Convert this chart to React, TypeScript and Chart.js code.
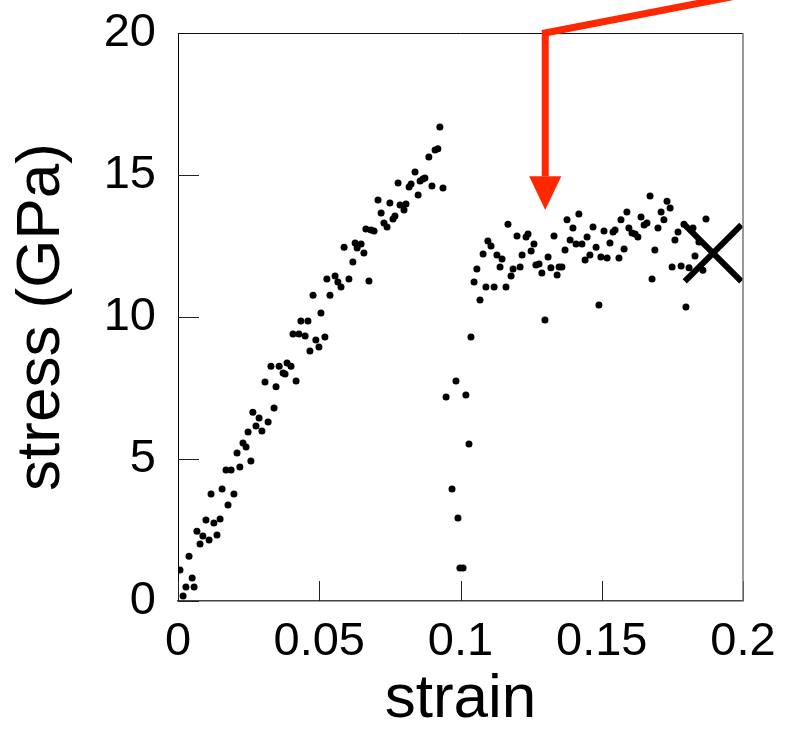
import React, { useEffect, useRef } from "react";
import { Chart, registerables } from "chart.js";

Chart.register(...registerables);

// strain / stress samples
const strain: number[] = [
  0.0018, 0.0028, 0.0057, 0.0050, 0.0007, 0.0039, 0.0078, 0.0067, 0.0088, 0.0110,
  0.0138, 0.0099, 0.0127, 0.0149, 0.0117, 0.0156, 0.0198, 0.0177, 0.0170, 0.0188,
  0.0219, 0.0209, 0.0258, 0.0230, 0.0241, 0.0248, 0.0265, 0.0276, 0.0287, 0.0297,
  0.0319, 0.0340, 0.0308, 0.0347, 0.0418, 0.0329, 0.0358, 0.0386, 0.0400, 0.0372,
  0.0379, 0.0407, 0.0428, 0.0450, 0.0467, 0.0499, 0.0488, 0.0520, 0.0435, 0.0460,
  0.0506, 0.0478, 0.0538, 0.0527, 0.0556, 0.0566, 0.0577, 0.0605, 0.0676, 0.0619,
  0.0588, 0.0627, 0.0648, 0.0634, 0.0658, 0.0665, 0.0683, 0.0694, 0.0729, 0.0740,
  0.0719, 0.0708, 0.0750, 0.0768, 0.0761, 0.0786, 0.0807, 0.0800, 0.0779, 0.0818,
  0.0825, 0.0850, 0.0839, 0.0857, 0.0867, 0.0874, 0.0899, 0.0938, 0.0888, 0.0910,
  0.0920, 0.0927,
  0.0984, 0.0949, 0.1019, 0.1030, 0.0970, 0.0991, 0.0998, 0.1009,
  0.1037, 0.1048, 0.1058, 0.1069, 0.1080, 0.1090, 0.1119, 0.1097, 0.1108, 0.1129,
  0.1147, 0.1140, 0.1161, 0.1179, 0.1186, 0.1211, 0.1168, 0.1200, 0.1232, 0.1239,
  0.1218, 0.1260, 0.1250, 0.1267, 0.1278, 0.1288, 0.1310, 0.1320, 0.1331, 0.1342,
  0.1349, 0.1359, 0.1299, 0.1377, 0.1419, 0.1398, 0.1388, 0.1370, 0.1409, 0.1430,
  0.1448, 0.1469, 0.1480, 0.1458, 0.1441, 0.1508, 0.1529, 0.1497, 0.1519, 0.1561,
  0.1490, 0.1547, 0.1540, 0.1568, 0.1589, 0.1579, 0.1596, 0.1607, 0.1618, 0.1628,
  0.1639, 0.1650, 0.1660, 0.1671, 0.1688, 0.1678, 0.1699, 0.1710, 0.1720, 0.1731,
  0.1742, 0.1749, 0.1759, 0.1770, 0.1791, 0.1823, 0.1781, 0.1809, 0.1798, 0.1869,
  0.1830, 0.1844, 0.1858,
];

const stress: number[] = [
  0.18, 0.49, 0.49, 0.81, 1.09, 1.58, 2.01, 2.46, 2.29, 2.15,
  2.32, 2.85, 2.75, 2.89, 3.77, 3.94, 3.77, 3.38, 4.61, 4.61,
  4.72, 5.21, 4.93, 5.56, 5.42, 5.95, 6.65, 6.16, 6.44, 5.99,
  6.30, 6.80, 7.71, 7.54, 7.75, 8.27, 8.27, 8.38, 8.27, 8.03,
  7.99, 9.40, 9.40, 9.33, 8.80, 8.94, 9.19, 9.30, 9.86, 9.86,
  10.14, 10.77, 10.77, 11.34, 11.44, 11.23, 11.06, 11.34, 11.27, 11.94,
  12.46, 12.61, 12.57, 12.43, 12.25, 13.10, 13.06, 13.03, 13.31, 13.17,
  13.66, 14.12, 14.01, 13.56, 13.45, 13.94, 13.98, 13.77, 14.72, 14.58,
  14.68, 14.30, 15.11, 14.79, 14.86, 14.89, 14.61, 14.54, 15.63, 15.88,
  15.92, 16.69,
  7.75, 7.18, 7.25, 5.53, 3.94, 2.92, 1.16, 1.16,
  9.30, 11.23, 11.69, 10.60, 12.22, 11.06, 11.06, 12.68, 12.50, 12.18,
  12.04, 11.76, 11.06, 11.44, 11.69, 11.76, 13.27, 12.85, 12.82, 12.92,
  12.18, 12.57, 12.32, 11.83, 11.87, 11.55, 12.11, 11.73, 12.85, 11.48,
  11.76, 11.76, 9.89, 13.42, 13.63, 13.13, 12.71, 12.36, 12.57, 12.57,
  12.82, 13.17, 12.46, 12.18, 12.01, 13.03, 12.61, 12.11, 12.08, 12.08,
  10.42, 13.06, 12.99, 13.42, 13.70, 12.39, 13.13, 12.96, 12.92, 12.82,
  13.52, 13.24, 13.31, 14.26, 12.36, 11.34, 13.13, 13.70, 13.42, 14.08,
  13.84, 11.76, 12.71, 12.99, 13.27, 13.13, 11.80, 11.73, 10.35, 13.45,
  12.15, 12.64, 11.65,
];

// fracture marker
const failureStrain: number[] = [0.1894];
const failureStress: number[] = [12.25];

// red arrow annotation (polyline, then head tip)
const arrowStrain: number[] = [0.2, 0.13, 0.13];
const arrowStress: number[] = [21.35, 20, 14.96];
const arrowTip: number[] = [0.13, 13.77];
const arrowHeadHalfWidth = 0.0057;

const xTickLabels: string[] = ["0", "0.05", "0.1", "0.15", "0.2"];
const yTickLabels: string[] = ["0", "5", "10", "15", "20"];

const FONT = "'Liberation Sans', Helvetica, Arial, sans-serif";

const framePlugin = {
  id: "frameAndTicks",
  afterDatasetsDraw(chart: any) {
    const { ctx, chartArea } = chart;
    const xs = chart.scales.x;
    const ys = chart.scales.y;
    ctx.save();
    // inside ticks
    ctx.strokeStyle = "#222";
    ctx.lineWidth = 1;
    ctx.beginPath();
    xs.ticks.forEach((t: any) => {
      const px = Math.round(xs.getPixelForValue(t.value)) + 0.5;
      ctx.moveTo(px, chartArea.bottom);
      ctx.lineTo(px, chartArea.bottom - 20);
    });
    ys.ticks.forEach((t: any) => {
      const py = Math.round(ys.getPixelForValue(t.value)) + 0.5;
      ctx.moveTo(chartArea.left, py);
      ctx.lineTo(chartArea.left + 21, py);
    });
    ctx.stroke();
    // top and right frame
    ctx.beginPath();
    ctx.strokeStyle = "#111";
    ctx.moveTo(chartArea.left, chartArea.top + 0.5);
    ctx.lineTo(chartArea.right, chartArea.top + 0.5);
    ctx.stroke();
    ctx.beginPath();
    ctx.strokeStyle = "#777";
    ctx.lineWidth = 1.5;
    ctx.moveTo(chartArea.right, chartArea.top);
    ctx.lineTo(chartArea.right, chartArea.bottom);
    ctx.stroke();

    // red arrow
    ctx.strokeStyle = "rgb(255,40,0)";
    ctx.fillStyle = "rgb(255,40,0)";
    ctx.lineWidth = 7;
    ctx.lineJoin = "miter";
    ctx.beginPath();
    arrowStrain.forEach((v, i) => {
      const px = xs.getPixelForValue(v);
      const py = ys.getPixelForValue(arrowStress[i]);
      if (i === 0) ctx.moveTo(px, py);
      else ctx.lineTo(px, py);
    });
    ctx.stroke();
    const last = arrowStrain.length - 1;
    const baseY = ys.getPixelForValue(arrowStress[last]);
    const lx = xs.getPixelForValue(arrowStrain[last] - arrowHeadHalfWidth);
    const rx = xs.getPixelForValue(arrowStrain[last] + arrowHeadHalfWidth);
    ctx.beginPath();
    ctx.moveTo(lx, baseY);
    ctx.lineTo(rx, baseY);
    ctx.lineTo(xs.getPixelForValue(arrowTip[0]), ys.getPixelForValue(arrowTip[1]));
    ctx.closePath();
    ctx.fill();
    ctx.restore();
  },
};

export default function App() {
  const ref = useRef<HTMLCanvasElement | null>(null);

  useEffect(() => {
    document.body.style.margin = "0";
    const canvas = ref.current;
    if (!canvas) return;
    const points = strain.map((x, i) => ({ x, y: stress[i] }));
    const failure = failureStrain.map((x, i) => ({ x, y: failureStress[i] }));
    const chart = new Chart(canvas, {
      type: "scatter",
      data: {
        datasets: [
          {
            data: failure,
            pointStyle: "crossRot",
            pointRadius: 40,
            pointHoverRadius: 40,
            borderColor: "#000",
            backgroundColor: "#000",
            borderWidth: 6,
            clip: 0,
          } as any,
          {
            data: points,
            pointStyle: "circle",
            pointRadius: 3.5,
            pointHoverRadius: 3.5,
            backgroundColor: "#000",
            borderColor: "#000",
            borderWidth: 0,
          },
        ],
      },
      options: {
        animation: false,
        responsive: false,
        events: [],
        layout: { autoPadding: false, padding: { left: 0, right: 45, top: 33, bottom: 0 } },
        plugins: { legend: { display: false }, tooltip: { enabled: false } },
        scales: {
          x: {
            type: "linear",
            min: 0,
            max: 0.2,
            afterFit: (s: any) => {
              s.height = 136;
              s.paddingLeft = 0;
              s.paddingRight = 0;
            },
            afterBuildTicks: (s: any) => {
              s.ticks = xTickLabels.map((_, i) => ({ value: (0.2 * i) / (xTickLabels.length - 1) }));
            },
            ticks: {
              color: "#000",
              font: { family: FONT, size: 47 },
              padding: 13,
              maxRotation: 0,
              autoSkip: false,
              callback: (_v: any, i: number) => xTickLabels[i],
            },
            grid: { display: false, drawTicks: false },
            border: { display: true, color: "#444", width: 1.5 },
            title: {
              display: true,
              text: "strain",
              color: "#000",
              font: { family: FONT, size: 62 },
              padding: { top: 0, bottom: 0 },
            },
          },
          y: {
            type: "linear",
            min: 0,
            max: 20,
            afterFit: (s: any) => {
              s.width = 178;
              s.paddingTop = 0;
              s.paddingBottom = 0;
            },
            afterBuildTicks: (s: any) => {
              s.ticks = yTickLabels.map((_, i) => ({ value: (20 * i) / (yTickLabels.length - 1) }));
            },
            ticks: {
              color: "#000",
              font: { family: FONT, size: 47 },
              padding: 22,
              autoSkip: false,
              callback: (_v: any, i: number) => yTickLabels[i],
            },
            grid: { display: false, drawTicks: false },
            border: { display: true, color: "#000", width: 1 },
            title: {
              display: true,
              text: "stress (GPa)",
              color: "#000",
              font: { family: FONT, size: 62 },
              padding: { top: 5, bottom: 0 },
            },
          },
        },
      },
      plugins: [framePlugin],
    });
    return () => chart.destroy();
  }, []);

  return (
    <div style={{ width: 788, height: 737, position: "relative", background: "#fff" }}>
      <canvas ref={ref} width={788} height={737} style={{ display: "block" }} />
    </div>
  );
}
